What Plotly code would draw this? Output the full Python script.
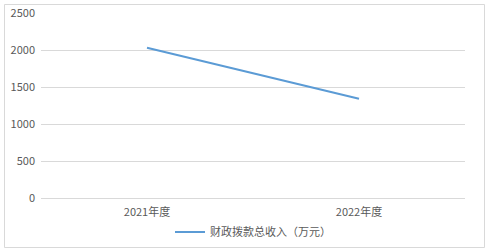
import plotly.graph_objects as go

categories = ["2021年度", "2022年度"]
values = [2030, 1342]
series_name = "财政拨款总收入（万元）"
y_ticks = [0, 500, 1000, 1500, 2000, 2500]

W, H = 488, 252
L, R, T, B = 41, 23, 13, 54
pw, ph = W - L - R, H - T - B

fig = go.Figure()
fig.add_trace(go.Scatter(
    x=categories, y=values, mode="lines", name=series_name,
    line=dict(color="#5B9BD5", width=2),
))

font = dict(family="Noto Sans CJK SC, Lato, sans-serif", size=11, color="#595959")

fig.update_layout(
    width=W, height=H,
    margin=dict(l=L, r=R, t=T, b=B, autoexpand=False),
    paper_bgcolor="white", plot_bgcolor="white",
    font=font,
    showlegend=True,
    legend=dict(orientation="h", x=0.5, xanchor="center",
                y=-(232 - 198) / ph, yanchor="middle",
                font=font, itemwidth=30),
    xaxis=dict(type="category", range=[-0.5, 1.5], showgrid=False, showline=False,
               ticks="", tickfont=font, zeroline=False, ticklabelstandoff=6),
    yaxis=dict(range=[0, 2500], tickvals=y_ticks, showgrid=True, gridcolor="#D9D9D9",
               gridwidth=1, zeroline=True, zerolinecolor="#D9D9D9", zerolinewidth=1,
               showline=False, ticks="", tickfont=font, ticklabelstandoff=5),
    shapes=[dict(type="rect", xref="paper", yref="paper",
                 x0=(4.5 - L) / pw, x1=(484.5 - L) / pw,
                 y0=(H - B - 247.5) / ph, y1=(H - B - 4.5) / ph,
                 line=dict(color="#D9D9D9", width=1), fillcolor="rgba(0,0,0,0)",
                 layer="below")],
)

fig.write_html("out.html")
